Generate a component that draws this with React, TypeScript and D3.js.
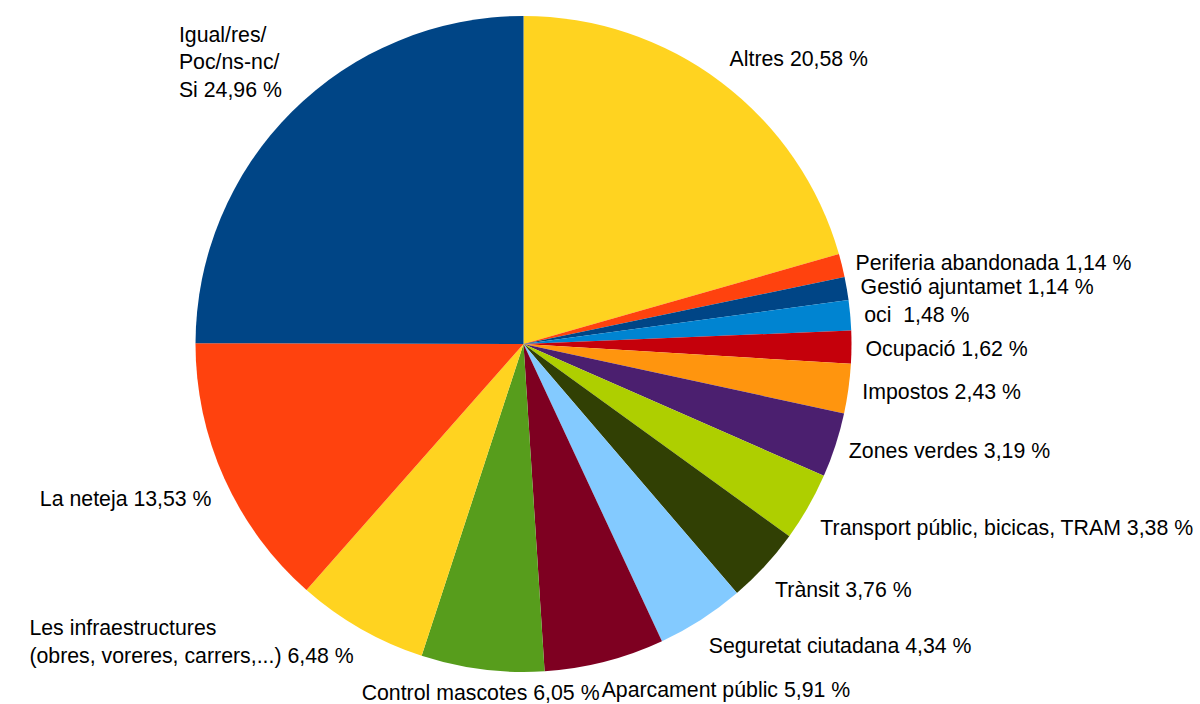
import React, { useEffect, useRef } from "react";
import * as d3 from "d3";

// Data, clockwise from 12 o'clock
const categories: string[][] = [
  ["Altres 20,58 %"],
  ["Periferia abandonada 1,14 %"],
  ["Gestió ajuntamet 1,14 %"],
  ["oci  1,48 %"],
  ["Ocupació 1,62 %"],
  ["Impostos 2,43 %"],
  ["Zones verdes 3,19 %"],
  ["Transport públic, bicicas, TRAM 3,38 %"],
  ["Trànsit 3,76 %"],
  ["Seguretat ciutadana 4,34 %"],
  ["Aparcament públic 5,91 %"],
  ["Control mascotes 6,05 %"],
  ["Les infraestructures", "(obres, voreres, carrers,...) 6,48 %"],
  ["La neteja 13,53 %"],
  ["Igual/res/", "Poc/ns-nc/", "Si 24,96 %"],
];
const values: number[] = [
  20.58, 1.14, 1.14, 1.48, 1.62, 2.43, 3.19, 3.38, 3.76, 4.34, 5.91, 6.05, 6.48, 13.53, 24.96,
];
const colors: string[] = [
  "#ffd320", "#ff420e", "#004586", "#0084d1", "#c5000b", "#ff950e", "#4b1f6f",
  "#aecf00", "#314004", "#83caff", "#7e0021", "#579d1c", "#ffd320", "#ff420e", "#004586",
];

const W = 1200;
const H = 704;
const CX = 523.5;
const CY = 344;
const R = 328;
const LABEL_R = 342;
const FS = 21.3;
const ASC = 22.5;
const LINE_H = 27.5;
const BOX_EXTRA = 4;
const BASELINE_SHIFT = -1;
const OVERLAP_TOL = 5;
// labels whose alignment is overridden (as placed by the original layout)
const alignOverride: Record<number, string> = { 12: "LEFT" };

export default function App() {
  const ref = useRef<SVGSVGElement | null>(null);
  useEffect(() => {
    document.body.style.margin = "0";
    const svg = d3.select(ref.current!);
    svg.selectAll("*").remove();
    const data = values.map((v, i) => ({ v, i }));
    const pie = d3
      .pie<{ v: number; i: number }>()
      .sort(null)
      .value((d) => d.v)
      .startAngle(0)
      .endAngle(2 * Math.PI);
    const arcs = pie(data);
    const arc = d3.arc<d3.PieArcDatum<{ v: number; i: number }>>().innerRadius(0).outerRadius(R);
    const g = svg.append("g").attr("transform", `translate(${CX},${CY})`);
    g.selectAll("path")
      .data(arcs)
      .join("path")
      .attr("d", arc as any)
      .attr("fill", (d) => colors[d.data.i]);

    // labels: place in counter-clockwise order (from Igual backwards)
    const placed: { x0: number; y0: number; x1: number; y1: number }[] = [];
    const order = d3.range(arcs.length).reverse();
    const lg = svg
      .append("g")
      .attr("font-family", "'Liberation Sans', Arial, sans-serif")
      .attr("font-size", FS)
      .attr("fill", "#000")
      .style("white-space", "pre");
    for (const idx of order) {
      const a = arcs[idx];
      const mid = (a.startAngle + a.endAngle) / 2;
      const px = CX + LABEL_R * Math.sin(mid);
      const py = CY - LABEL_R * Math.cos(mid);
      let math = 90 - (mid * 180) / Math.PI;
      math = ((math % 360) + 360) % 360;
      let align: string;
      if (math <= 22.5) align = "RIGHT";
      else if (math < 67.5) align = "RIGHT_TOP";
      else if (math < 112.5) align = "TOP";
      else if (math <= 157.5) align = "LEFT_TOP";
      else if (math <= 202.5) align = "LEFT";
      else if (math < 247.5) align = "LEFT_BOTTOM";
      else if (math < 292.5) align = "BOTTOM";
      else if (math < 337.5) align = "RIGHT_BOTTOM";
      else align = "RIGHT";
      if (alignOverride[idx]) align = alignOverride[idx];

      const lines = categories[idx];
      const t = lg.append("text").attr("xml:space", "preserve");
      lines.forEach((ln, k) => {
        t.append("tspan").attr("x", 0).attr("y", k * LINE_H).text(ln);
      });
      const bb = (t.node() as SVGTextElement).getBBox();
      const w = bb.width;
      const h = ASC + (lines.length - 1) * LINE_H + BOX_EXTRA;
      let x0 = px, y0 = py;
      if (align === "RIGHT") { x0 = px; y0 = py - h / 2; }
      else if (align === "RIGHT_TOP") { x0 = px; y0 = py - h; }
      else if (align === "TOP") { x0 = px - w / 2; y0 = py - h; }
      else if (align === "LEFT_TOP") { x0 = px - w; y0 = py - h; }
      else if (align === "LEFT") { x0 = px - w; y0 = py - h / 2; }
      else if (align === "LEFT_BOTTOM") { x0 = px - w; y0 = py; }
      else if (align === "BOTTOM") { x0 = px - w / 2; y0 = py; }
      else { x0 = px; y0 = py; }
      let clamped = false;
      if (y0 + h > H) { y0 = H - h; clamped = true; }
      // horizontal overlap avoidance
      for (const p of placed) {
        const ov =
          x0 < p.x1 && x0 + w > p.x0 &&
          y0 + OVERLAP_TOL < p.y1 && y0 + h - OVERLAP_TOL > p.y0;
        if (ov) {
          if (Math.sin(mid) >= 0) x0 = p.x1 + 2;
          else x0 = p.x0 - w - 2;
        }
      }
      placed.push({ x0, y0, x1: x0 + w, y1: y0 + h });
      const shift = clamped ? 0 : BASELINE_SHIFT;
      t.attr("transform", `translate(${x0},${y0 + ASC + shift})`);
    }
  }, []);
  return <svg ref={ref} width={W} height={H} style={{ display: "block", background: "#fff" }} />;
}
